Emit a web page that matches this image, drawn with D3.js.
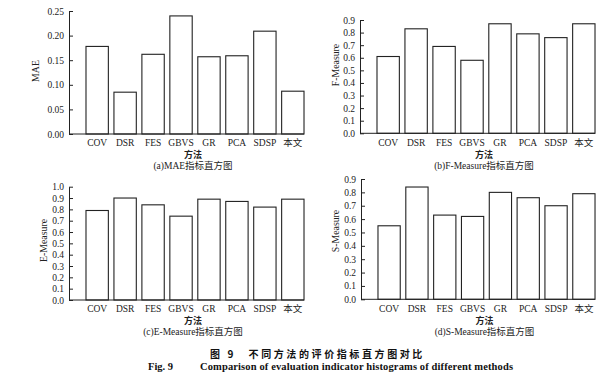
<!DOCTYPE html>
<html><head><meta charset="utf-8">
<script src="https://cdn.jsdelivr.net/npm/d3@7/dist/d3.min.js"></script>
<style>body{margin:0;background:#fff}svg{display:block}</style>
</head><body>
<svg id="c" width="615" height="380"></svg>
<script>
const categories = ["COV","DSR","FES","GBVS","GR","PCA","SDSP","本文"];
const maeValues = [0.178,0.085,0.162,0.240,0.157,0.159,0.209,0.087];
const fValues   = [0.61,0.83,0.69,0.58,0.87,0.79,0.76,0.87];
const eValues   = [0.79,0.90,0.84,0.74,0.89,0.87,0.82,0.89];
const sValues   = [0.55,0.84,0.63,0.62,0.80,0.76,0.70,0.79];
const maeTicks = [0,0.05,0.10,0.15,0.20,0.25];
const fTicks = [0,0.1,0.2,0.3,0.4,0.5,0.6,0.7,0.8,0.9];
const eTicks = [0,0.1,0.2,0.3,0.4,0.5,0.6,0.7,0.8,0.9,1.0];
const sTicks = [0,0.1,0.2,0.3,0.4,0.5,0.6,0.7,0.8,0.9];
const xTitle = "方法";
const bottomCn = "图 9\u2003不同方法的评价指标直方图对比";
const bottomEnPrefix = "Fig. 9";
const bottomEn = "Comparison of evaluation indicator histograms of different methods";

const panels = [
  {vals:maeValues, ticks:maeTicks, fmt:".2f", ylab:"MAE", cap:"(a)MAE指标直方图",
   left:69, right:304, y0:134, yTop:11, ylx:35, yly:71},
  {vals:fValues, ticks:fTicks, fmt:".1f", ylab:"F-Measure", cap:"(b)F-Measure指标直方图",
   left:360, right:595, y0:133.3, yTop:20, ylx:335, yly:65},
  {vals:eValues, ticks:eTicks, fmt:".1f", ylab:"E-Measure", cap:"(c)E-Measure指标直方图",
   left:69, right:304, y0:300, yTop:186.7, ylx:43, yly:240.5},
  {vals:sValues, ticks:sTicks, fmt:".1f", ylab:"S-Measure", cap:"(d)S-Measure指标直方图",
   left:361, right:595, y0:299.3, yTop:179, ylx:335, yly:231}
];

const svg = d3.select("#c");
const serif = "'Liberation Serif','Times New Roman',serif";
const cjk = "'Liberation Serif','Noto Sans CJK SC',serif";
const ink = "#222";

panels.forEach(p => {
  const g = svg.append("g");
  const maxT = p.ticks[p.ticks.length-1];
  const y = d3.scaleLinear().domain([0, maxT]).range([p.y0, p.yTop]);
  const x = d3.scaleBand().domain(categories)
    .range([p.left + 14.2, p.right + 2.8]).paddingInner(0.2).paddingOuter(0.1);

  g.selectAll("rect").data(p.vals).enter().append("rect")
    .attr("x", (d,i) => x(categories[i]))
    .attr("y", d => y(d))
    .attr("width", x.bandwidth())
    .attr("height", d => p.y0 - y(d))
    .attr("fill", "#fff").attr("stroke", ink).attr("stroke-width", 1.1);

  const ya = d3.axisRight(y).tickValues(p.ticks).tickFormat(d3.format(p.fmt)).tickSize(4).tickSizeOuter(0);
  const yg = g.append("g").attr("transform", `translate(${p.left},0)`).call(ya);
  yg.select(".domain").attr("stroke", ink);
  yg.selectAll(".tick line").attr("stroke", ink);
  yg.selectAll(".tick text").attr("x", -5).attr("text-anchor", "end")
    .attr("font-family", serif).attr("font-size", 9.5).attr("fill", ink);

  g.append("line").attr("x1", p.left).attr("x2", p.right).attr("y1", p.y0).attr("y2", p.y0)
    .attr("stroke", ink).attr("stroke-width", 1);

  g.selectAll("text.xl").data(categories).enter().append("text").attr("class","xl")
    .attr("x", d => x(d) + x.bandwidth()/2).attr("y", p.y0 + 12.3)
    .attr("text-anchor", "middle").attr("font-family", cjk).attr("font-size", 9.5).attr("fill", ink)
    .text(d => d);

  const cx = (p.left + 17 + p.right)/2 - 2;
  g.append("text").attr("x", cx).attr("y", p.y0 + 24.3).attr("text-anchor","middle")
    .attr("font-family","'Noto Sans CJK SC',sans-serif").attr("font-weight","bold").attr("font-size", 9)
    .attr("fill", ink).text(xTitle);
  g.append("text").attr("x", cx).attr("y", p.y0 + 35.3).attr("text-anchor","middle")
    .attr("font-family", cjk).attr("font-size", 9.5).attr("fill", ink).text(p.cap);

  g.append("text").attr("transform", `translate(${p.ylx + 3.5},${p.yly}) rotate(-90)`)
    .attr("text-anchor","middle").attr("font-family", serif).attr("font-size", 9.8).attr("fill", ink)
    .text(p.ylab);
});

svg.append("text").attr("x", 210).attr("y", 358).attr("font-family","'Noto Sans CJK SC',sans-serif")
  .attr("font-weight","bold").attr("font-size", 10).attr("letter-spacing", 2.6).attr("fill", "#111")
  .text(bottomCn);
svg.append("text").attr("x", 148).attr("y", 370).attr("font-family", serif)
  .attr("font-weight","bold").attr("font-size", 10.5).attr("fill", "#111").text(bottomEnPrefix);
svg.append("text").attr("x", 200).attr("y", 370).attr("font-family", serif)
  .attr("font-weight","bold").attr("font-size", 10.5).attr("fill", "#111")
  .attr("textLength", 313).attr("lengthAdjust","spacing").text(bottomEn);
</script>
</body></html>
